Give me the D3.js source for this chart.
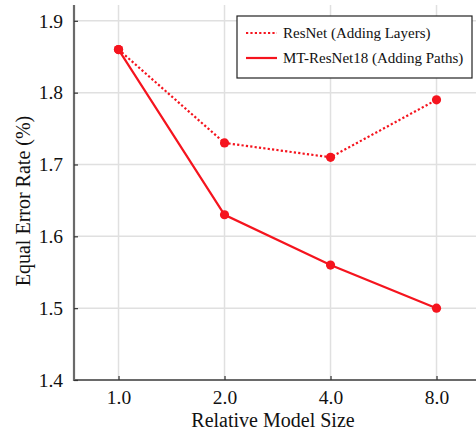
<!DOCTYPE html>
<html>
<head>
<meta charset="utf-8">
<script src="https://cdn.jsdelivr.net/npm/d3@7"></script>
<style>
  html, body { margin: 0; padding: 0; background: #fff; }
  svg { display: block; }
  svg text { font-family: "Liberation Serif", "Times New Roman", serif; }
</style>
</head>
<body>
<svg id="chart" width="476" height="435"></svg>
<script>
// model sizes (relative) and tick labels
const sizes = [1, 2, 4, 8];
const sizeLabels = ["1.0", "2.0", "4.0", "8.0"];
const resnetErr = [1.86, 1.73, 1.71, 1.79];
const mtErr = [1.86, 1.63, 1.56, 1.50];
const yTicks = [1.4, 1.5, 1.6, 1.7, 1.8, 1.9];

const red = "#f5141e";
const serif = "Liberation Serif";
const width = 476, height = 435;
const plotLeft = 74, plotBottom = 380, plotTop = 5;

const svg = d3.select("#chart");

// sizes double each step, so a log2 scale gives even spacing
const x = d3.scaleLog().base(2)
  .domain([Math.pow(2, -0.42), Math.pow(2, 3.38)])
  .range([plotLeft, plotLeft + 3.8 * 106]);
const y = d3.scaleLinear().domain([1.4, 1.922]).range([plotBottom, plotTop]);

// grid
svg.append("g").selectAll("line")
  .data(yTicks.slice(1))
  .join("line")
  .attr("x1", plotLeft).attr("x2", width)
  .attr("y1", d => y(d)).attr("y2", d => y(d))
  .attr("stroke", "#e0e0e0").attr("stroke-width", 1.5);

svg.append("g").selectAll("line")
  .data(sizes)
  .join("line")
  .attr("x1", d => x(d)).attr("x2", d => x(d))
  .attr("y1", plotTop).attr("y2", plotBottom)
  .attr("stroke", "#e0e0e0").attr("stroke-width", 1.5);

// axes
const xAxis = d3.axisBottom(x)
  .tickValues(sizes)
  .tickFormat((d, i) => sizeLabels[i])
  .tickSizeInner(-4).tickSizeOuter(0).tickPadding(10);
const gx = svg.append("g").attr("transform", `translate(0,${plotBottom})`).call(xAxis);

const yAxis = d3.axisLeft(y)
  .tickValues(yTicks)
  .tickFormat(d3.format(".1f"))
  .tickSizeInner(-4).tickSizeOuter(0).tickPadding(11);
const gy = svg.append("g").attr("transform", `translate(${plotLeft},0)`).call(yAxis);

[gx, gy].forEach(g => {
  g.attr("font-family", serif);
  g.select(".domain").attr("stroke", "#6a6a6a").attr("stroke-width", 2.2);
  g.selectAll(".tick line").attr("stroke", "#333").attr("stroke-width", 1.2);
  g.selectAll(".tick text")
    .attr("fill", "#111")
    .attr("font-family", serif)
    .attr("font-size", 19.5);
});
gy.select(".domain").attr("d", `M0,${plotTop}V${plotBottom + 1}`);
gx.select(".domain").attr("d", `M${plotLeft - 1},0H${width}`);

// axis titles
svg.append("text")
  .attr("x", (plotLeft + width) / 2 - 2).attr("y", 427)
  .attr("text-anchor", "middle")
  .attr("font-family", serif)
  .attr("font-size", 20).attr("fill", "#111")
  .text("Relative Model Size");

svg.append("text")
  .attr("transform", "translate(30,201) rotate(-90)")
  .attr("text-anchor", "middle")
  .attr("font-family", serif)
  .attr("font-size", 20).attr("fill", "#111")
  .text("Equal Error Rate (%)");

// series
const line = d3.line()
  .x((d, i) => x(sizes[i]))
  .y(d => y(d));

const series = [
  { name: "ResNet (Adding Layers)", values: resnetErr, dash: "2.2,2.2" },
  { name: "MT-ResNet18 (Adding Paths)", values: mtErr, dash: null }
];

series.forEach(s => {
  svg.append("path")
    .datum(s.values)
    .attr("d", line)
    .attr("fill", "none")
    .attr("stroke", red)
    .attr("stroke-width", 2.2)
    .attr("stroke-dasharray", s.dash);
  svg.append("g").selectAll("circle")
    .data(s.values)
    .join("circle")
    .attr("cx", (d, i) => x(sizes[i]))
    .attr("cy", d => y(d))
    .attr("r", 4.6)
    .attr("fill", red);
});

// legend
const legend = svg.append("g");
legend.append("rect")
  .attr("x", 237).attr("y", 16)
  .attr("width", 235).attr("height", 62)
  .attr("fill", "#fff").attr("stroke", "#222").attr("stroke-width", 1.2);

series.forEach((s, i) => {
  const ly = 33 + i * 25;
  legend.append("line")
    .attr("x1", 246).attr("x2", 277)
    .attr("y1", ly).attr("y2", ly)
    .attr("stroke", red).attr("stroke-width", 2.2)
    .attr("stroke-dasharray", s.dash);
  legend.append("text")
    .attr("x", 283).attr("y", ly + 5)
    .attr("font-family", serif)
    .attr("font-size", 15).attr("fill", "#111")
    .text(s.name);
});
</script>
</body>
</html>
